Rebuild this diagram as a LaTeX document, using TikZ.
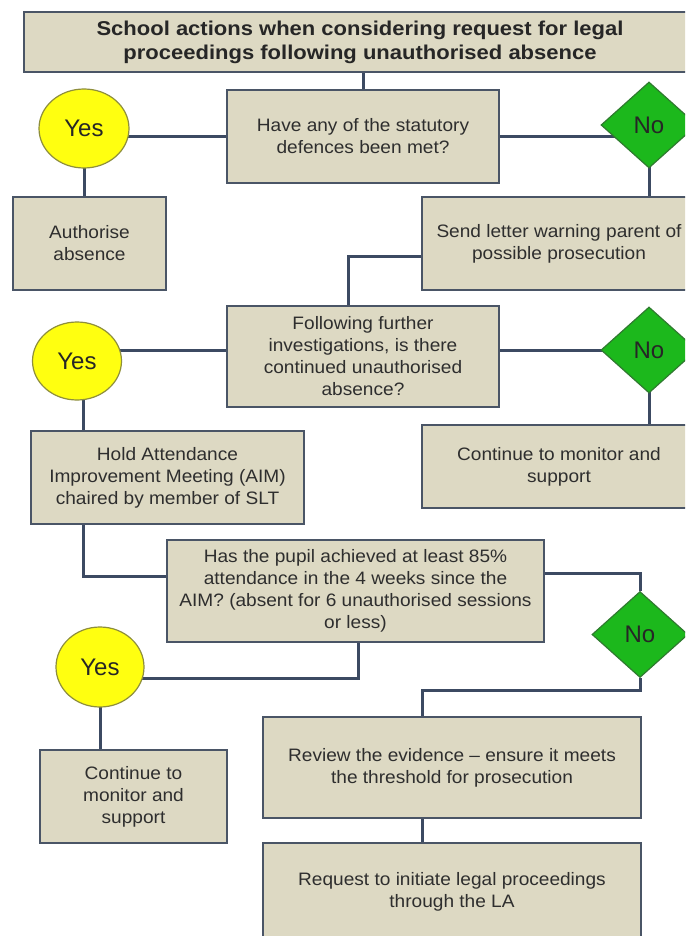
\documentclass[tikz,border=0pt]{standalone}
\usepackage{fontspec}
\setmainfont{Liberation Sans}
\newfontfamily\bodyfont[FakeStretch=1.06]{Liberation Sans}
\newfontfamily\titlefont[FakeStretch=1.1]{Liberation Sans}
\usetikzlibrary{shapes.geometric}
\definecolor{boxfill}{HTML}{DDD9C3}
\definecolor{boxline}{HTML}{4A5566}
\definecolor{connc}{HTML}{3C4A62}
\definecolor{yesfill}{HTML}{FFFF10}
\definecolor{yesline}{HTML}{8E8E3C}
\definecolor{nofill}{HTML}{1CB81C}
\definecolor{noline}{HTML}{2F7A2F}
\definecolor{txt}{HTML}{2E2E2E}
\pgfdeclarelayer{paper}
\pgfdeclarelayer{bg}
\pgfsetlayers{paper,bg,main}
\tikzset{
  box/.style={draw=boxline, line width=1.6pt, fill=boxfill, rectangle, inner sep=0pt,
    align=center, text=txt, font=\bodyfont\fontsize{18}{22}\selectfont},
  yesnode/.style={ellipse, draw=yesline, line width=1.2pt, fill=yesfill, inner sep=0pt,
    text=black!85, font=\fontsize{24}{28}\selectfont},
  nonode/.style={diamond, draw=noline, line width=1.2pt, fill=nofill, inner sep=0pt,
    minimum width=96pt, minimum height=86pt, text=black!85, font=\fontsize{24}{28}\selectfont},
  connline/.style={draw=connc, line width=3pt}
}
\begin{document}
\begin{tikzpicture}[x=1pt,y=-1pt]
\useasboundingbox (0,0) rectangle (685,936);
\begin{pgfonlayer}{paper}
\fill[white] (0,0) rectangle (685,936);
\end{pgfonlayer}
\clip (0,0) rectangle (685,936);

\node[box, minimum width=672pt, minimum height=60pt, text=black!85,
  font=\titlefont\bfseries\fontsize{20}{24}\selectfont] (title) at (360,42)
  {School actions when considering request for legal\\proceedings following unauthorised absence};
\node[box, minimum width=272pt, minimum height=93pt] (q1) at (363,136.5)
  {Have any of the statutory\\defences been met?};
\node[yesnode, minimum width=90pt, minimum height=79pt] (yes1) at (84,128.5) {Yes};
\node[nonode] (no1) at (649,125) {No};
\node[box, minimum width=153pt, minimum height=93pt] (auth) at (89.5,243.5)
  {Authorise\\absence};
\node[box, minimum width=274pt, minimum height=93pt] (send) at (559,243.5)
  {Send letter warning parent of\\possible prosecution};
\node[box, minimum width=272pt, minimum height=101pt] (q2) at (363,356.5)
  {Following further\\investigations, is there\\continued unauthorised\\absence?};
\node[yesnode, minimum width=89pt, minimum height=78pt] (yes2) at (77,361) {Yes};
\node[nonode] (no2) at (649,350) {No};
\node[box, minimum width=274pt, minimum height=83pt] (cont1) at (559,466.5)
  {Continue to monitor and\\support};
\node[box, minimum width=273pt, minimum height=93pt] (aim) at (167.5,477.5)
  {Hold Attendance\\Improvement Meeting (AIM)\\chaired by member of SLT};
\node[box, minimum width=377pt, minimum height=102pt] (q3) at (355.5,591)
  {Has the pupil achieved at least 85\%\\attendance in the 4 weeks since the\\AIM? (absent for 6 unauthorised sessions\\or less)};
\node[nonode] (no3) at (640,634.5) {No};
\node[yesnode, minimum width=88pt, minimum height=80pt] (yes3) at (100,667) {Yes};
\node[box, minimum width=187pt, minimum height=93pt] (cont2) at (133.5,796.5)
  {Continue to\\monitor and\\support};
\node[box, minimum width=378pt, minimum height=101pt] (review) at (452,767.5)
  {Review the evidence – ensure it meets\\the threshold for prosecution};
\node[box, minimum width=378pt, minimum height=97pt] (request) at (452,891.5)
  {Request to initiate legal proceedings\\through the LA};

\coordinate (j1) at (348,256);
\coordinate (j2) at (83,576);
\coordinate (j3) at (640,573);
\coordinate (j4) at (358,678);
\coordinate (j5) at (422,690);

\begin{pgfonlayer}{bg}
\draw[connline] (q1.north) -- (q1.north |- title.south);
\draw[connline] (q1.west) -- (yes1.center |- q1.west);
\draw[connline] (q1.east) -- (no1.center |- q1.east);
\draw[connline] (yes1.center) -- (yes1.center |- auth.north);
\draw[connline] (no1.center) -- (no1.center |- send.north);
\draw[connline] (send.west |- j1) -- (j1) -- (j1 |- q2.north);
\draw[connline] (q2.west |- no2.center) -- (yes2.center |- no2.center);
\draw[connline] (q2.east |- no2.center) -- (no2.center);
\draw[connline] (no2.center) -- (no2.center |- cont1.north);
\draw[connline] (yes2.center -| j2) -- (j2 |- aim.north);
\draw[connline] (j2 |- aim.south) -- (j2) -- (q3.west |- j2);
\draw[connline] (q3.east |- j3) -- (j3) -- (no3.north);
\draw[connline] (j4 |- q3.south) -- (j4) -- (yes3.center |- j4);
\draw[connline] (yes3.center) -- (yes3.center |- cont2.north);
\draw[connline] (no3.south) -- (no3.south |- j5) -- (j5) -- (j5 |- review.north);
\draw[connline] (j5 |- review.south) -- (j5 |- request.north);
\end{pgfonlayer}
\end{tikzpicture}
\end{document}
